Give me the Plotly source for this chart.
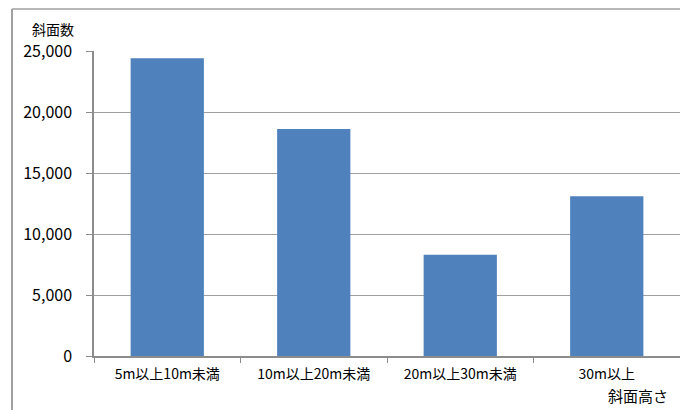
import plotly.graph_objects as go

categories = ["5m以上10m未満", "10m以上20m未満", "20m以上30m未満", "30m以上"]
values = [24400, 18600, 8300, 13100]
y_ticks = [0, 5000, 10000, 15000, 20000, 25000]
y_tick_labels = ["0", "5,000", "10,000", "15,000", "20,000", "25,000"]

FONT = "Noto Sans CJK JP"
GRID = "#a0a0a0"
AXIS = "#8c8c8c"

fig = go.Figure()
fig.add_trace(go.Bar(x=categories, y=values, marker=dict(color="#4f81bd", line=dict(width=0))))

W, H = 680, 410
L, R, T, B = 94, 0, 51, 54
pw, ph = W - L - R, H - T - B

def px_x(x):
    return (x - L) / pw

def px_y(y):
    return (H - B - y) / ph

fig.update_layout(
    width=W, height=H,
    margin=dict(l=L, r=R, t=T, b=B),
    paper_bgcolor="white", plot_bgcolor="white",
    showlegend=False,
    bargap=0.5,
    font=dict(family=FONT, color="#000000"),
    xaxis=dict(
        type="category",
        showgrid=False,
        showline=True, linecolor=AXIS, linewidth=1.5,
        ticks="outside", tickson="boundaries", ticklen=5, tickcolor=AXIS, tickwidth=1,
        tickfont=dict(size=14, family=FONT),
        ticklabelstandoff=4,
        range=[-0.5, 3.5],
    ),
    yaxis=dict(
        range=[0, 25000],
        tickvals=y_ticks, ticktext=y_tick_labels,
        showgrid=True, gridcolor=GRID, gridwidth=1,
        showline=True, linecolor=AXIS, linewidth=1.5,
        ticks="outside", ticklen=6, tickcolor=AXIS, tickwidth=1,
        tickfont=dict(size=16, family=FONT),
        ticklabelstandoff=11,
        zeroline=False,
    ),
    annotations=[
        dict(text="斜面数", xref="paper", yref="paper", x=px_x(53), y=px_y(29),
             xanchor="center", yanchor="middle", showarrow=False,
             font=dict(size=14, family=FONT)),
        dict(text="斜面高さ", xref="paper", yref="paper", x=px_x(638), y=px_y(395),
             xanchor="center", yanchor="middle", showarrow=False,
             font=dict(size=15, family=FONT)),
    ],
    shapes=[
        dict(type="line", xref="paper", yref="paper",
             x0=px_x(12), x1=px_x(12), y0=px_y(9), y1=px_y(420),
             line=dict(color="#a0a0a0", width=2)),
        dict(type="line", xref="paper", yref="paper",
             x0=px_x(12), x1=px_x(700), y0=px_y(9), y1=px_y(9),
             line=dict(color="#a0a0a0", width=1.5)),
    ],
)

fig.write_html("out.html")
